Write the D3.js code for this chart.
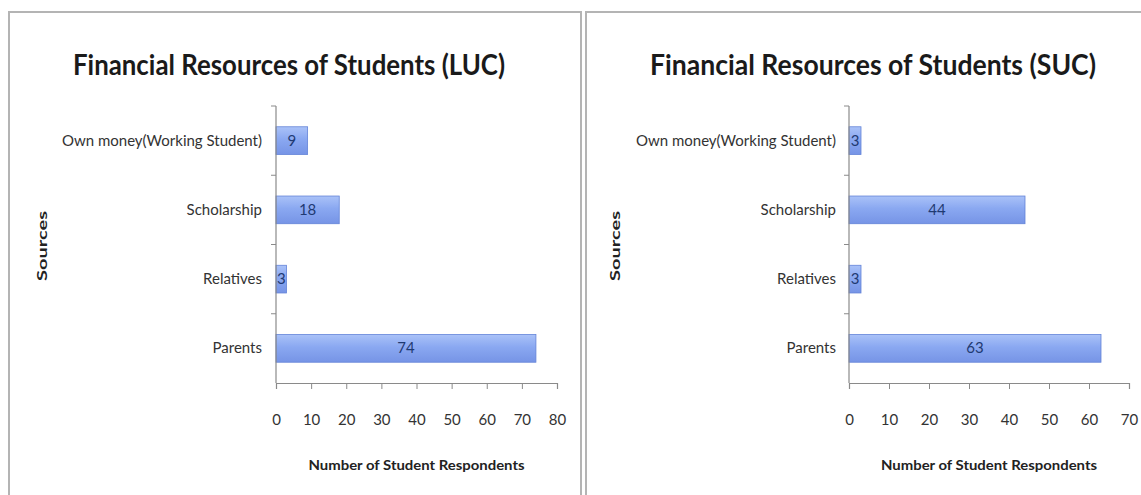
<!DOCTYPE html>
<html>
<head>
<meta charset="utf-8">
<script src="https://cdn.jsdelivr.net/npm/d3@7"></script>
<style>
  html, body { margin: 0; padding: 0; background: #fff; }
  svg { display: block; }
  text { font-family: Lato, "Open Sans", "Liberation Sans", sans-serif; }
</style>
</head>
<body>
<svg id="chart" width="1141" height="495"></svg>
<script>
// ---- Data ----
const categories = ["Own money(Working Student)", "Scholarship", "Relatives", "Parents"];
const lucValues = [9, 18, 3, 74];
const sucValues = [3, 44, 3, 63];
const lucTicks = [0, 10, 20, 30, 40, 50, 60, 70, 80];
const sucTicks = [0, 10, 20, 30, 40, 50, 60, 70];
const titles = ["Financial Resources of Students (LUC)", "Financial Resources of Students (SUC)"];
const xAxisTitle = "Number of Student Respondents";
const yAxisTitle = "Sources";

const svg = d3.select("#chart");

// gradient for bars
const defs = svg.append("defs");
const grad = defs.append("linearGradient").attr("id", "barGrad")
  .attr("x1", 0).attr("y1", 0).attr("x2", 0).attr("y2", 1);
grad.append("stop").attr("offset", "0%").attr("stop-color", "#aac2f8");
grad.append("stop").attr("offset", "45%").attr("stop-color", "#8aa8f1");
grad.append("stop").attr("offset", "100%").attr("stop-color", "#7694e6");

// panel borders
svg.append("rect").attr("x", 9).attr("y", 12).attr("width", 572).attr("height", 500)
  .attr("fill", "none").attr("stroke", "#b4b4b4").attr("stroke-width", 2);
svg.append("rect").attr("x", 586).attr("y", 12).attr("width", 572).attr("height", 500)
  .attr("fill", "none").attr("stroke", "#b4b4b4").attr("stroke-width", 2);

function drawChart(cfg) {
  const g = svg.append("g");
  const x = d3.scaleLinear().domain([0, cfg.ticks[cfg.ticks.length - 1]]).range([cfg.x0, cfg.x1]);
  const y = d3.scaleBand().domain(categories).range([106, 383]).paddingInner(0.6).paddingOuter(0.3);
  const axisColor = "#8a8a8a";

  // title
  g.append("text")
    .attr("x", cfg.titleX).attr("y", 75)
    .attr("text-anchor", "middle")
    .attr("font-size", 28)
    .attr("font-weight", "bold")
    .attr("fill", "#1a1a1a")
    .attr("textLength", cfg.titleLen)
    .attr("lengthAdjust", "spacingAndGlyphs")
    .text(cfg.title);

  // bars
  g.selectAll("rect.bar").data(cfg.values).join("rect")
    .attr("class", "bar")
    .attr("x", x(0))
    .attr("y", (d, i) => y(categories[i]))
    .attr("width", d => x(d) - x(0))
    .attr("height", y.bandwidth())
    .attr("fill", "url(#barGrad)")
    .attr("stroke", "#6383d8")
    .attr("stroke-width", 0.8);

  // value labels
  g.selectAll("text.val").data(cfg.values).join("text")
    .attr("class", "val")
    .attr("x", d => (x(d) + x(0)) / 2)
    .attr("y", (d, i) => y(categories[i]) + y.bandwidth() / 2 + 5)
    .attr("text-anchor", "middle")
    .attr("font-size", 15)
    .attr("fill", "#1f3a72")
    .text(d => d);

  // y axis line and boundary ticks
  g.append("line").attr("x1", x(0)).attr("x2", x(0)).attr("y1", 106).attr("y2", 383)
    .attr("stroke", axisColor).attr("stroke-width", 1.2);
  const gap = (y.step() - y.bandwidth()) / 2;
  const bounds = categories.map(c => y(c) - gap);
  g.selectAll("line.ytick").data(bounds).join("line")
    .attr("class", "ytick")
    .attr("x1", x(0) - 5).attr("x2", x(0))
    .attr("y1", d => d).attr("y2", d => d)
    .attr("stroke", axisColor).attr("stroke-width", 1);

  // category labels
  g.selectAll("text.cat").data(categories).join("text")
    .attr("class", "cat")
    .attr("x", cfg.catRight)
    .attr("y", d => y(d) + y.bandwidth() / 2 + 5)
    .attr("text-anchor", "end")
    .attr("font-size", 15)
    .attr("fill", "#333")
    .text(d => d);

  // x axis
  const xAxis = d3.axisBottom(x).tickValues(cfg.ticks).tickSize(6);
  const xg = g.append("g").attr("transform", "translate(0,383)").call(xAxis);
  xg.select(".domain").attr("stroke", axisColor).attr("stroke-width", 1.2);
  xg.selectAll(".tick line").attr("stroke", axisColor);
  xg.selectAll(".tick text")
    .attr("y", 37).attr("dy", "0.35em")
    .attr("font-family", "Lato, sans-serif")
    .attr("font-size", 15)
    .attr("fill", "#333");

  // x axis title
  g.append("text")
    .attr("x", (cfg.x0 + cfg.x1) / 2).attr("y", 470)
    .attr("text-anchor", "middle")
    .attr("font-size", 14)
    .attr("font-weight", "bold")
    .attr("fill", "#222")
    .attr("textLength", 216)
    .attr("lengthAdjust", "spacingAndGlyphs")
    .text(xAxisTitle);

  // y axis title
  g.append("text")
    .attr("transform", `translate(${cfg.yTitleX},246) rotate(-90)`)
    .attr("text-anchor", "middle")
    .attr("font-size", 13)
    .attr("font-weight", "bold")
    .attr("fill", "#222")
    .attr("textLength", 70)
    .attr("lengthAdjust", "spacingAndGlyphs")
    .text(yAxisTitle);
}

drawChart({ title: titles[0], values: lucValues, ticks: lucTicks, x0: 276, x1: 557,
  titleX: 289, titleLen: 432, catRight: 262, yTitleX: 47 });
drawChart({ title: titles[1], values: sucValues, ticks: sucTicks, x0: 849, x1: 1129,
  titleX: 873, titleLen: 446, catRight: 836, yTitleX: 620 });
</script>
</body>
</html>
